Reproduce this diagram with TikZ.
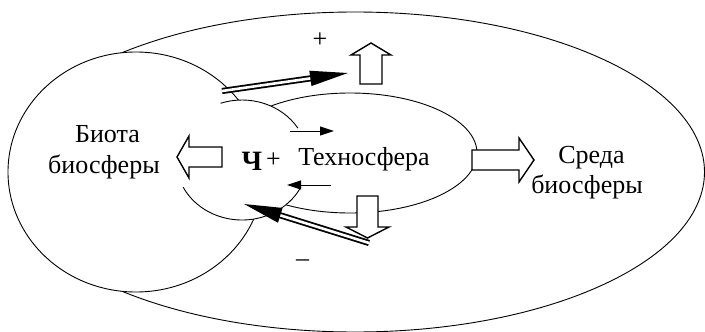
\documentclass[tikz,border=0pt]{standalone}
\usepackage{fontspec}
\setmainfont{Liberation Serif}
\usetikzlibrary{shapes.geometric,arrows.meta}
\begin{document}
\begin{tikzpicture}[x=1pt,y=-1pt,
  line width=0.9pt,
  oval/.style={ellipse,draw,fill=white,inner sep=0pt,outer sep=0pt},
  blockarrow/.style={draw,fill=white,line width=1.4pt,line join=miter},
  dbl/.style={double,double distance=2.6pt,line width=1.8pt,-{Triangle[length=38pt,width=15pt]}},
  smallarr/.style={line width=1pt,-{Triangle[length=14pt,width=9pt]}},
  lbl/.style={inner sep=0pt,font=\fontsize{26pt}{31pt}\selectfont}]
\useasboundingbox (0,0) rectangle (705,332);
% outer environment (open arc, its left end hidden by the biota)
\coordinate (envc) at (355,172);
\draw ([shift={(135:349.5pt and 160pt)}]envc) arc[start angle=135,end angle=-135,x radius=349.5pt,y radius=160pt];
% ellipses
\node[oval,minimum width=256pt,minimum height=240pt] (biota) at (136,172) {};
\node[oval,minimum width=254pt,minimum height=120pt] (tech) at (350,153) {};
\node[ellipse,fill=white,inner sep=0pt,outer sep=0pt,minimum width=132pt,minimum height=120pt] (ch) at (242,160) {};
\draw ([shift={(109:66pt and 60pt)}]ch.center) arc[start angle=109,end angle=32,x radius=66pt,y radius=60pt];
\draw ([shift={(207:66pt and 60pt)}]ch.center) arc[start angle=207,end angle=333,x radius=66pt,y radius=60pt];
% block arrows
\draw[blockarrow] (222,147) -- (189,147) -- (189,136) -- (177,157) -- (189,178) -- (189,167) -- (222,167) -- cycle;
\draw[blockarrow] (472,150) -- (519,150) -- (519,138) -- (534,160) -- (519,182) -- (519,170) -- (472,170) -- cycle;
\draw[blockarrow] (360,84) -- (360,55) -- (351,55) -- (371,43) -- (391,55) -- (382,55) -- (382,84) -- cycle;
\draw[blockarrow] (357,196) -- (378,196) -- (378,227) -- (389,227) -- (367.5,238) -- (346,227) -- (357,227) -- cycle;
% double arrows
\coordinate (pa) at (222,91);
\coordinate (pb) at (348,73);
\coordinate (ma) at (369,243);
\coordinate (mb) at (244,204);
\draw[dbl] (pa) -- (pb);
\draw[dbl] (ma) -- (mb);
% small arrows
\coordinate (ra) at (290,131);
\coordinate (rb) at (334,131);
\coordinate (la) at (331,185);
\coordinate (lb) at (287,185);
\draw[smallarr] (ra) -- (rb);
\draw[smallarr] (la) -- (lb);
% labels
\node[lbl,anchor=base] (t1) at (107.5,142) {Биота};
\node[lbl,anchor=base] (t2) at (104,173) {биосферы};
\node[lbl,anchor=base] (t3) at (364,165) {Техносфера};
\node[lbl,anchor=base] (t4) at (591.5,163) {Среда};
\node[lbl,anchor=base] (t5) at (587,193.5) {биосферы};
\node[inner sep=0pt,anchor=base,font=\fontsize{28pt}{31pt}\selectfont\bfseries] (t6) at (252,170) {Ч};
\node[lbl,anchor=center] (t7) at (273.5,160) {+};
\node[lbl,anchor=center] (t8) at (320,40) {+};
\node[lbl,anchor=base] (t9) at (302.5,266) {–};
\end{tikzpicture}
\end{document}
